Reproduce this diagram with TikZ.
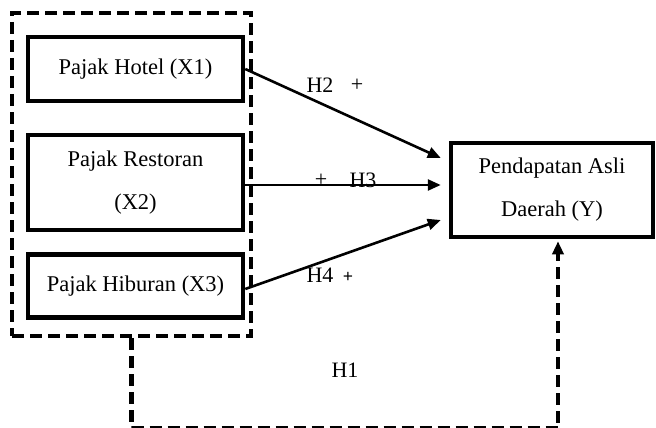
\documentclass[tikz,border=0pt]{standalone}
\usepackage{fontspec}
\setmainfont{Liberation Serif}
\usetikzlibrary{positioning, arrows.meta, calc}
\definecolor{lineblack}{HTML}{000000}

\tikzset{
  varbox/.style={draw=lineblack, line width=4.5pt, rectangle, minimum width=215pt, align=center, inner sep=0pt},
  hyparrow/.style={draw=lineblack, line width=2.6pt, -{Triangle[length=13pt,width=11pt]}},
  groupline/.style={draw=lineblack, line width=4.5pt, dash pattern=on 12pt off 6pt},
  hyplabel/.style={inner sep=0pt, font=\fontsize{22}{26}\selectfont}
}

\begin{document}
\begin{tikzpicture}[x=1pt, y=-1pt, font=\fontsize{22.5}{43}\selectfont]
  \useasboundingbox (0,0) rectangle (656,428);
  % independent variables
  \node[varbox, minimum height=64pt] (x1) at (135.5,69) {Pajak Hotel (X1)};
  \node[varbox, minimum height=95pt] (x2) at (135.5,182.5) {Pajak Restoran\\(X2)};
  \node[varbox, minimum height=63pt] (x3) at (135.5,286) {Pajak Hiburan (X3)};
  \node[groupline, rectangle, minimum width=239pt, minimum height=323pt] (grp) at (131.5,174.5) {};
  % dependent variable
  \node[varbox, minimum width=202pt, minimum height=94pt] (y) at (552,190) {Pendapatan Asli\\Daerah (Y)};
  % partial effects
  \draw[hyparrow] (x1.east) -- ([xshift=-8pt,yshift=32pt]y.west);
  \draw[hyparrow] ([yshift=-2.5pt]x2.east) -- ([xshift=-8pt,yshift=5pt]y.west);
  \draw[hyparrow] ([yshift=-3pt]x3.east) -- ([xshift=-8pt,yshift=-30pt]y.west);
  \node[hyplabel] (h2) at (320,85) {H2};
  \node[hyplabel] (h2s) at (357,85) {+};
  \node[hyplabel] (h3s) at (321,180) {+};
  \node[hyplabel] (h3) at (363,180) {H3};
  \node[hyplabel] (h4) at (320,275) {H4};
  \node[hyplabel, font=\fontsize{18}{22}\selectfont\bfseries] (h4s) at (348,277) {+};
  % simultaneous effect
  \draw[groupline, -{Triangle[length=13pt,width=11pt]}] (grp.south) -- ++(0,90) -| ([xshift=6pt,yshift=-2pt]y.south);
  \node[hyplabel] (h1) at (345,370) {H1};
\end{tikzpicture}
\end{document}
